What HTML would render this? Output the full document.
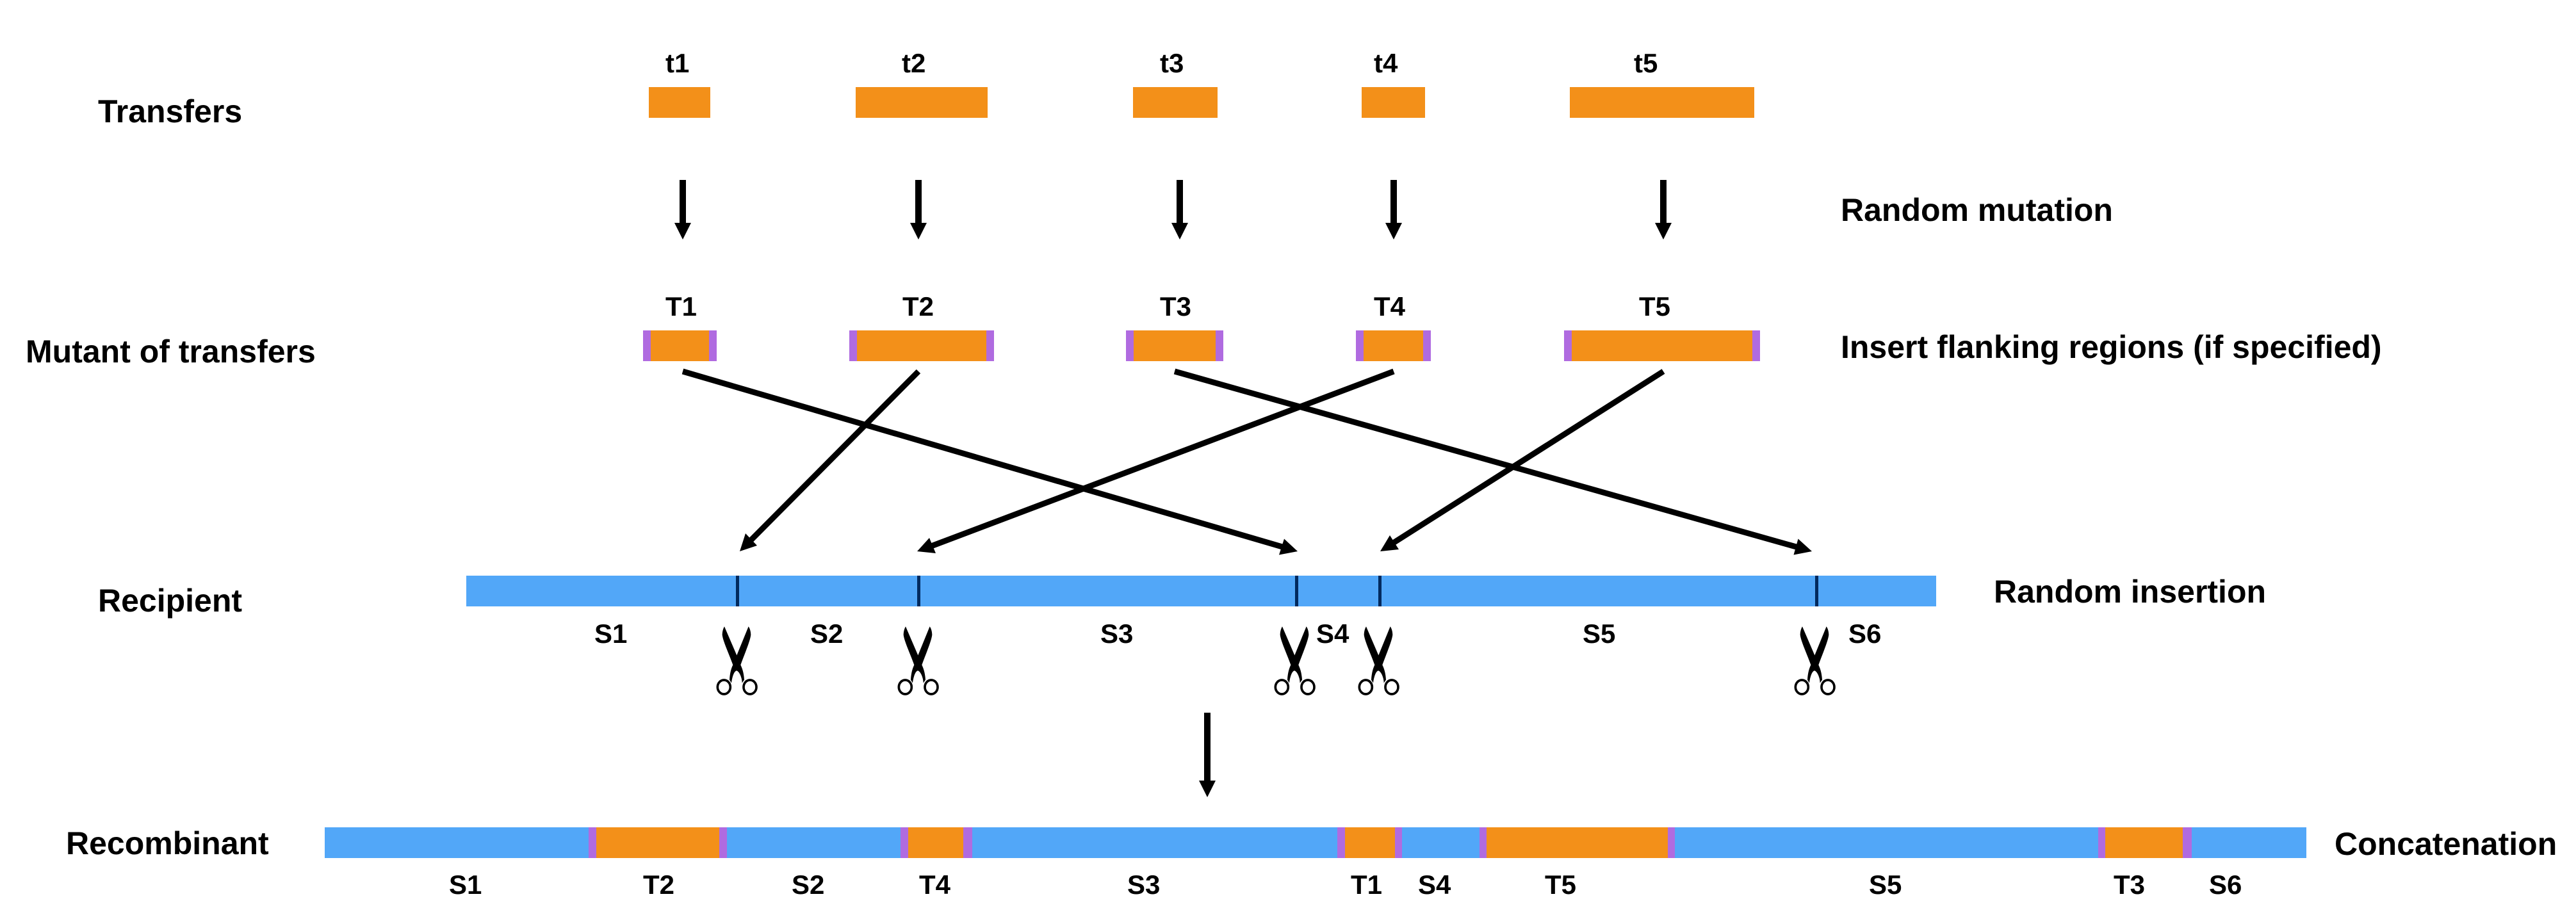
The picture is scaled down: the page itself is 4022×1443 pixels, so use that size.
<!DOCTYPE html>
<html><head><meta charset="utf-8"><style>
html,body{margin:0;padding:0;background:#fff;width:4022px;height:1443px;overflow:hidden}
svg{display:block}
text{font-family:"Liberation Sans",Arial,sans-serif;font-weight:700;fill:#000}
.l{font-size:50px}.s{font-size:42px}
.o{fill:#F39019}.p{fill:#B06BE0}.b{fill:#52A7F8}
.a{stroke:#000;stroke-width:9;fill:none}
</style></head><body>
<svg xmlns="http://www.w3.org/2000/svg" width="4022" height="1443" viewBox="0 0 4022 1443">
<defs>
<g id="scissor">
<g transform="scale(.3333) translate(-209,-225)">
<path fill="#000" d="M152,55 L210,190 L265,55 C272,65 276,80 276,95 C272,125 250,175 228,235 C235,250 243,270 245,305 L235,320 C235,295 222,265 209,262 C196,265 188,295 185,320 L176,305 C178,270 185,250 192,235 C170,175 146,125 142,95 C142,80 146,65 152,55 Z"/>
<ellipse cx="150" cy="339" rx="30" ry="33" fill="none" stroke="#000" stroke-width="11"/>
<ellipse cx="272" cy="339" rx="30" ry="33" fill="none" stroke="#000" stroke-width="11"/>
</g>
</g>
</defs>
<rect width="4022" height="1443" fill="#fff"/>

<!-- transfers -->
<rect class="o" x="1013" y="136" width="96" height="48"/>
<rect class="o" x="1336" y="136" width="206" height="48"/>
<rect class="o" x="1769" y="136" width="132" height="48"/>
<rect class="o" x="2126" y="136" width="99" height="48"/>
<rect class="o" x="2451" y="136" width="288" height="48"/>

<text class="s" x="1039" y="113">t1</text>
<text class="s" x="1408" y="113">t2</text>
<text class="s" x="1811" y="113">t3</text>
<text class="s" x="2145" y="113">t4</text>
<text class="s" x="2551" y="113">t5</text>

<text class="l" x="153" y="191">Transfers</text>
<text class="l" x="40" y="566">Mutant of transfers</text>
<text class="l" x="2874" y="345">Random mutation</text>
<text class="l" x="2874" y="559">Insert flanking regions (if specified)</text>
<text class="l" x="153" y="955">Recipient</text>
<text class="l" x="3113" y="941">Random insertion</text>
<text class="l" x="103" y="1334">Recombinant</text>
<text class="l" x="3645" y="1335">Concatenation</text>

<!-- vertical arrows -->
<g fill="#000">
<rect x="1061" y="281" width="10" height="70"/><polygon points="1053,348 1079,348 1066,374"/>
<rect x="1429" y="281" width="10" height="70"/><polygon points="1421,348 1447,348 1434,374"/>
<rect x="1837" y="281" width="10" height="70"/><polygon points="1829,348 1855,348 1842,374"/>
<rect x="2171" y="281" width="10" height="70"/><polygon points="2163,348 2189,348 2176,374"/>
<rect x="2592" y="281" width="10" height="70"/><polygon points="2584,348 2610,348 2597,374"/>
<rect x="1880" y="1113" width="10" height="110"/><polygon points="1872,1219 1898,1219 1885,1245"/>
</g>

<!-- mutants -->
<rect class="p" x="1004" y="516" width="115" height="48"/><rect class="o" x="1016" y="516" width="91" height="48"/>
<rect class="p" x="1326" y="516" width="226" height="48"/><rect class="o" x="1338" y="516" width="202" height="48"/>
<rect class="p" x="1758" y="516" width="152" height="48"/><rect class="o" x="1770" y="516" width="128" height="48"/>
<rect class="p" x="2117" y="516" width="117" height="48"/><rect class="o" x="2129" y="516" width="93" height="48"/>
<rect class="p" x="2442" y="516" width="306" height="48"/><rect class="o" x="2454" y="516" width="282" height="48"/>

<text class="s" x="1039" y="493">T1</text>
<text class="s" x="1409" y="493">T2</text>
<text class="s" x="1811" y="493">T3</text>
<text class="s" x="2145" y="493">T4</text>
<text class="s" x="2559" y="493">T5</text>

<!-- diagonal arrows -->
<g class="a">
<line x1="1066" y1="580" x2="2007" y2="855.4"/>
<line x1="1434" y1="580" x2="1169" y2="847"/>
<line x1="1834" y1="580" x2="2810" y2="855.6"/>
<line x1="2176" y1="580" x2="1451" y2="854"/>
<line x1="2597" y1="580" x2="2172" y2="850"/>
</g>
<g fill="#000">
<polygon points="2026,861 1997,866.5 2005,841.5"/>
<polygon points="1155,861 1164,833 1182,852"/>
<polygon points="2829,861 2800.5,866.5 2807.5,841.5"/>
<polygon points="1432,861 1451,840 1461,864"/>
<polygon points="2155,861 2170,836 2184,858"/>
</g>

<!-- recipient -->
<rect class="b" x="728" y="899" width="2295" height="48"/>
<g fill="#012A5E">
<rect x="1149" y="899" width="5" height="48"/>
<rect x="1432" y="899" width="5" height="48"/>
<rect x="2022" y="899" width="5" height="48"/>
<rect x="2152" y="899" width="5" height="48"/>
<rect x="2834" y="899" width="5" height="48"/>
</g>
<text class="s" x="928" y="1004">S1</text>
<text class="s" x="1265" y="1004">S2</text>
<text class="s" x="1718" y="1004">S3</text>
<text class="s" x="2055" y="1004">S4</text>
<text class="s" x="2471" y="1004">S5</text>
<text class="s" x="2886" y="1004">S6</text>

<!-- scissors -->
<use href="#scissor" x="1150" y="1035"/>
<use href="#scissor" x="1433" y="1035"/>
<use href="#scissor" x="2021" y="1035"/>
<use href="#scissor" x="2152" y="1035"/>
<use href="#scissor" x="2833" y="1035"/>

<!-- recombinant -->
<rect class="b" x="507" y="1292" width="3094" height="48"/>
<rect class="p" x="919" y="1292" width="216" height="48"/><rect class="o" x="931" y="1292" width="192" height="48"/>
<rect class="p" x="1406" y="1292" width="112" height="48"/><rect class="o" x="1418" y="1292" width="86" height="48"/>
<rect class="p" x="2088" y="1292" width="101" height="48"/><rect class="o" x="2100" y="1292" width="78" height="48"/>
<rect class="p" x="2310" y="1292" width="305" height="48"/><rect class="o" x="2321" y="1292" width="283" height="48"/>
<rect class="p" x="3276" y="1292" width="146" height="48"/><rect class="o" x="3287" y="1292" width="121" height="48"/>

<text class="s" x="701" y="1396">S1</text>
<text class="s" x="1004" y="1396">T2</text>
<text class="s" x="1236" y="1396">S2</text>
<text class="s" x="1435" y="1396">T4</text>
<text class="s" x="1760" y="1396">S3</text>
<text class="s" x="2109" y="1396">T1</text>
<text class="s" x="2214" y="1396">S4</text>
<text class="s" x="2412" y="1396">T5</text>
<text class="s" x="2918" y="1396">S5</text>
<text class="s" x="3300" y="1396">T3</text>
<text class="s" x="3449" y="1396">S6</text>
</svg>
</body></html>
